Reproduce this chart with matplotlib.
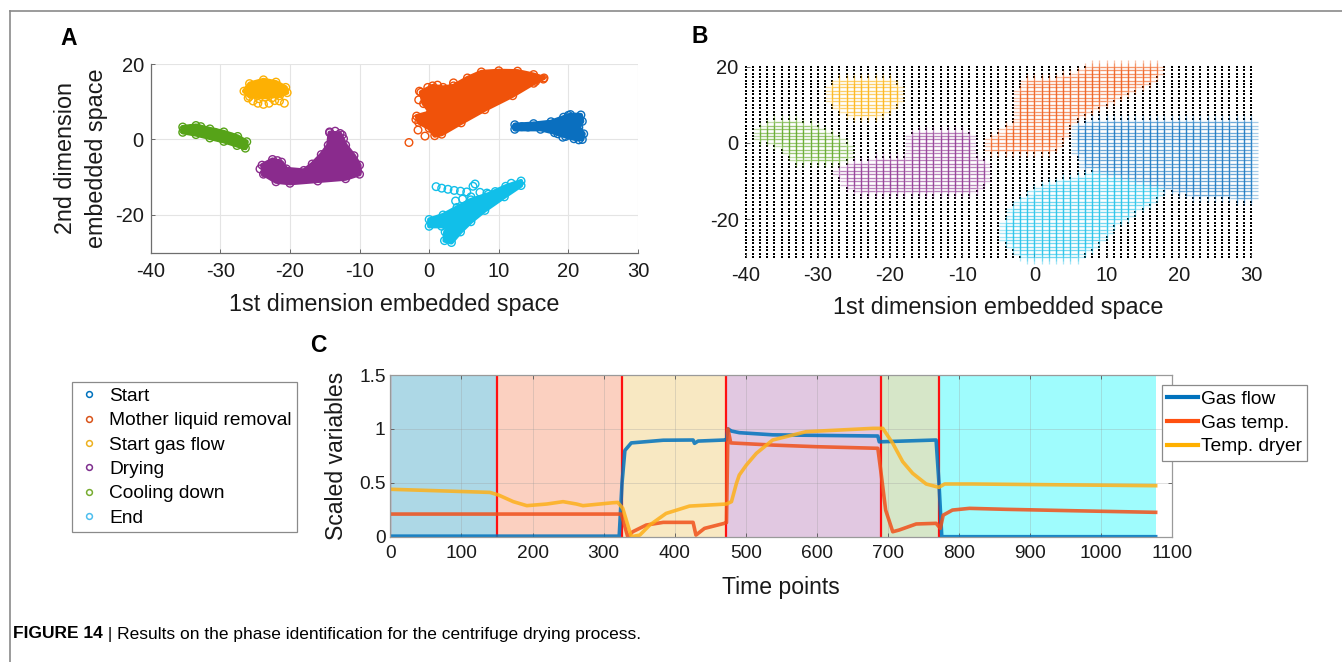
import numpy as np
import matplotlib.pyplot as plt
from matplotlib.lines import Line2D
from matplotlib.path import Path

plt.rcParams['font.family'] = ['Liberation Sans', 'DejaVu Sans']
plt.rcParams['axes.unicode_minus'] = False

W, H = 1342, 662

phase_names = ['Start', 'Mother liquid removal', 'Start gas flow', 'Drying', 'Cooling down', 'End']
phase_colors = ['#0a6fbf', '#f0520a', '#fdb003', '#8a2b8d', '#56a318', '#11bfe9']
legend_colors = ['#0072bd', '#d95319', '#edb120', '#7e2f8e', '#77ac30', '#4dbeee']

# panel A: dense core outline and loose points of every cluster
start_core = [(12.3, 3.9), (15, 4.2), (17.5, 4.7), (19.3, 5.9), (20.3, 6.6), (21.8, 6.5), (22.0, 4.8),
              (21.5, 3.2), (22.2, 1.5), (22.0, 0.0), (20.8, 0.2), (19.6, 0.8), (18, 1.8), (16, 2.7), (12.3, 2.7)]
start_pts = [(12.5, 3.3), (13.3, 3.4), (14.2, 3.3), (15.0, 3.5), (15.8, 3.6), (16.6, 3.4), (17.5, 3.8),
             (18.5, 1.5), (19.2, 0.6), (21.5, -0.1), (20.0, 6.4)]
mother_core = [(0.8, 1.0), (0.0, 3.0), (-1.5, 4.5), (-1.8, 6.2), (0.2, 7.2), (-0.8, 9.5), (-1.2, 12.5),
               (0.5, 14.2), (2.0, 13.8), (3.5, 14.2), (5.5, 16.3), (7.5, 17.9), (10.0, 18.2), (12.7, 18.1),
               (15.0, 17.2), (16.5, 16.3), (15.0, 14.9), (12.0, 11.6), (8.0, 7.9), (4.6, 4.4), (1.8, 1.4)]
mother_pts = [(-2.9, -0.8), (-0.6, 0.9), (-1.6, 2.5), (-1.9, 5.3), (-0.9, 5.6), (-1.5, 10.5), (-1.4, 12.8),
              (-0.2, 13.8), (1.2, 14.4), (2.0, 12.5), (3.5, 15.0), (4.5, 14.2), (6.5, 13.5), (16.4, 16.0),
              (15.3, 15.4), (12.2, 12.7), (2.5, 6.2), (1.0, 5.0), (0.5, 10.5)]
gas_core = [(-26.6, 12.8), (-25.8, 14.8), (-23.8, 15.8), (-22.0, 15.2), (-20.6, 13.8), (-20.4, 12.4),
            (-21.5, 11.6), (-23.5, 11.2), (-25.8, 11.4)]
gas_pts = [(-26.0, 11.0), (-25.3, 10.2), (-24.6, 9.6), (-23.8, 9.3), (-23.0, 9.6), (-22.2, 10.3),
           (-21.5, 10.2), (-20.8, 9.6), (-22.6, 11.0), (-24.5, 10.8)]
dry_core = [(-24.0, -6.8), (-22.5, -5.3), (-21.2, -6.0), (-20.5, -7.8), (-18.0, -8.2), (-16.8, -6.5),
            (-15.5, -4.0), (-14.5, -1.5), (-14.3, 1.8), (-12.8, 1.6), (-12.0, -1.5), (-10.8, -4.3),
            (-10.0, -6.8), (-10.0, -9.2), (-12.0, -10.4), (-16.0, -11.0), (-20.0, -11.6), (-22.0, -11.2),
            (-23.8, -9.2)]
dry_pts = [(-24.3, -7.8), (-23.6, -8.9), (-22.6, -9.6), (-21.6, -9.0), (-20.8, -9.4), (-19.8, -9.8),
           (-19.0, -9.2), (-17.8, -10.0), (-14.3, 2.0), (-13.5, 2.2), (-12.5, 1.2), (-12.3, 0.2),
           (-21.8, -5.6), (-10.3, -8.4)]
cool_core = [(-35.4, 3.3), (-33.5, 3.7), (-31.5, 2.8), (-29.5, 2.0), (-27.5, 0.8), (-26.2, -0.6),
             (-26.4, -2.3), (-27.6, -1.6), (-29.5, -0.5), (-31.5, 0.4), (-33.5, 1.3), (-35.4, 1.9)]
cool_pts = [(-35.3, 2.6), (-34.2, 2.8), (-32.8, 3.4), (-30.8, 1.9), (-28.4, 0.6), (-26.6, -1.6)]
end_core = [(0.0, -21.2), (2.0, -20.0), (4.0, -18.0), (6.0, -16.0), (8.5, -14.5), (11.0, -12.4),
            (13.2, -11.0), (13.2, -12.2), (10.8, -15.2), (8.0, -18.8), (6.0, -21.8), (4.5, -24.5),
            (3.2, -27.3), (2.2, -26.8), (2.3, -24.5), (3.0, -22.8), (1.8, -23.0), (0.0, -23.0)]
end_pts = [(1.0, -12.5), (1.8, -12.9), (2.7, -13.2), (3.6, -13.5), (4.5, -13.7), (5.4, -13.9), (6.3, -12.4),
           (6.6, -11.8), (7.3, -14.0), (8.3, -14.2), (9.5, -13.8), (11.8, -11.6), (6.0, -15.2),
           (4.8, -15.8), (3.8, -16.3)]

# panel B: evaluation grid and the class regions
grid_x = np.arange(-40, 31, 1.0)
grid_y = np.linspace(-30, 20, 56)
start_region = [(5.0, 2.5), (6.0, 5.0), (8.5, 6.0), (30.2, 6.0), (30.2, -15.0), (20.4, -13.5),
                (17.4, -11.5), (8.9, -8.0), (6.8, -6.2), (5.5, -2.0)]
mother_region = [(-6.4, -2.7), (-6.4, 0.8), (-3.5, 4.5), (-2.2, 6.5), (-2.4, 13), (-1.3, 16.5), (3, 17),
                 (6.8, 19), (8, 20.2), (17.4, 20.2), (17.4, 18), (15.5, 15), (12, 12), (8, 8.5),
                 (5.3, 6), (3.5, -1), (1.1, -2.7)]
gas_region = [(-28.3, 15), (-27, 16.8), (-20, 16.8), (-18.6, 14.5), (-18.6, 11), (-20, 8.5), (-22, 7),
              (-25, 7), (-27.5, 9.5), (-28.3, 11)]
dry_region = [(-17.3, 0.5), (-16.8, 3.4), (-9.2, 3.4), (-8.5, 1), (-8.5, -3), (-6.7, -5.5), (-6.7, -9.5),
              (-8, -12.5), (-11, -13.2), (-24.5, -13.2), (-26.5, -11), (-27.2, -7.5), (-25.5, -5),
              (-19.5, -4.2), (-17.5, -4)]
cool_region = [(-38.3, 0.5), (-38.3, 4.0), (-36.5, 5.5), (-34, 6.0), (-30.5, 5.0), (-28.8, 3.0),
               (-26.5, 1.0), (-25.5, -1.5), (-26.0, -4.5), (-27.5, -5.3), (-33.0, -5.3), (-34.5, -2.0),
               (-36.5, 0.0)]
end_region = [(-4.3, -22), (-3.5, -17), (-1.3, -14.5), (0.5, -11.5), (3, -10), (8.3, -8), (17.4, -8),
              (17.4, -14), (10.8, -22), (8.3, -27.2), (6, -30.2), (-1.5, -30.2), (-4, -26)]

# panel C: process signals
phase_bounds = [0, 150, 326, 473, 691, 772, 1078]
region_colors = ['#add8e6', '#fbd0c0', '#f8e8c2', '#e1c8e1', '#d6e6c8', '#9ffcfd']
gas_flow_t = [0, 322, 326, 330, 339, 384, 426, 428, 433, 470, 473, 475, 480, 491, 538, 600, 686, 688,
              693, 768, 772, 776, 1077]
gas_flow_v = [0.005, 0.005, 0.5, 0.80, 0.87, 0.895, 0.897, 0.866, 0.887, 0.897, 0.90, 1.0, 0.98, 0.965,
              0.945, 0.94, 0.934, 0.88, 0.881, 0.897, 0.5, 0.0, 0.0]
gas_temp_t = [0, 325, 334, 341, 360, 384, 426, 430, 442, 470, 473, 475, 479, 491, 538, 599, 686, 690,
              697, 707, 716, 740, 768, 774, 778, 791, 815, 866, 960, 1077]
gas_temp_v = [0.21, 0.21, 0.0, 0.046, 0.108, 0.133, 0.133, 0.015, 0.077, 0.124, 0.13, 1.0, 0.87, 0.866,
              0.85, 0.835, 0.82, 0.618, 0.247, 0.046, 0.062, 0.118, 0.124, 0.077, 0.2, 0.247, 0.263,
              0.254, 0.241, 0.226]
temp_dryer_t = [0, 140, 152, 173, 192, 220, 243, 262, 271, 313, 320, 327, 339, 351, 365, 388, 421, 473,
                480, 487, 491, 501, 515, 538, 585, 679, 693, 707, 721, 735, 754, 772, 780, 819, 1077]
temp_dryer_v = [0.44, 0.411, 0.387, 0.325, 0.288, 0.303, 0.325, 0.303, 0.288, 0.315, 0.318, 0.263, 0.0,
                0.015, 0.108, 0.216, 0.284, 0.303, 0.325, 0.495, 0.572, 0.665, 0.773, 0.897, 0.974,
                1.005, 1.005, 0.866, 0.696, 0.588, 0.489, 0.458, 0.489, 0.489, 0.473]
signal_names = ['Gas flow', 'Gas temp.', 'Temp. dryer']
signal_colors = ['#0072bd', '#f0501a', '#fdb01a']


def box(left, top, right, bottom):
    return [left / W, 1 - bottom / H, (right - left) / W, (bottom - top) / H]


def style_ticks(ax, size, pad_x, pad_y):
    ax.tick_params(direction='in', length=3, width=0.6, colors='#555555', labelcolor='#1a1a1a',
                   labelsize=size)
    ax.tick_params(axis='x', pad=pad_x)
    ax.tick_params(axis='y', pad=pad_y)


fig = plt.figure(figsize=(W / 100, H / 100), dpi=100)

# figure frame lines
fig.add_artist(Line2D([10 / W, 1], [1 - 10.7 / H] * 2, color='#8a8a8a', lw=1.2))
fig.add_artist(Line2D([10 / W] * 2, [0, 1 - 10.7 / H], color='#8a8a8a', lw=1.2))

# ---- panel A ----
axA = fig.add_axes(box(150.7, 64, 638, 252.7))
a_cores = [start_core, mother_core, gas_core, dry_core, cool_core, end_core]
a_points = [start_pts, mother_pts, gas_pts, dry_pts, cool_pts, end_pts]
for core, pts, col in zip(a_cores, a_points, phase_colors):
    cx, cy = zip(*core)
    axA.fill(cx, cy, facecolor=col, edgecolor=col, lw=3, joinstyle='round', zorder=3)
    axA.scatter(cx, cy, s=30, facecolors='none', edgecolors=col, linewidths=1.0, zorder=3)
    px, py = zip(*pts)
    axA.scatter(px, py, s=30, facecolors='none', edgecolors=col, linewidths=1.0, zorder=3)
axA.set_xlim(-40, 30)
axA.set_ylim(-30, 20)
axA.set_xticks(range(-40, 31, 10))
axA.set_yticks([-20, 0, 20])
axA.grid(True, color='#e4e4e4', lw=0.8)
axA.set_axisbelow(True)
for side in ['top', 'right']:
    axA.spines[side].set_visible(False)
for side in ['left', 'bottom']:
    axA.spines[side].set_color('#6e6e6e')
    axA.spines[side].set_linewidth(0.9)
style_ticks(axA, 14.5, 7, 5)
axA.set_xlabel('1st dimension embedded space', fontsize=16.8, color='#1a1a1a')
axA.xaxis.set_label_coords(0.5, -0.277)
axA.xaxis.label.set_va('center')
axA.set_ylabel('2nd dimension\nembedded space', fontsize=16.8, color='#1a1a1a', linespacing=1.45)
axA.yaxis.set_label_coords(-0.143, 0.5)
axA.yaxis.label.set_va('center')

# ---- panel B ----
axB = fig.add_axes(box(745.6, 66.7, 1251, 257.3))
gx, gy = np.meshgrid(grid_x, grid_y)
grid_pts = np.column_stack([gx.ravel(), gy.ravel()])
free = np.ones(len(grid_pts), bool)
b_regions = [start_region, mother_region, gas_region, dry_region, cool_region, end_region]
for region, col in zip(b_regions, phase_colors):
    inside = Path(region).contains_points(grid_pts) & free
    free &= ~inside
    axB.plot(grid_pts[inside, 0], grid_pts[inside, 1], '+', color=col, ms=10, mew=0.9, alpha=0.36,
             clip_on=False)
axB.scatter(grid_pts[free, 0], grid_pts[free, 1], s=2.6, c='k', marker='s', linewidths=0, clip_on=False)
axB.set_xlim(-40, 30)
axB.set_ylim(-30, 20)
axB.set_xticks(range(-40, 31, 10))
axB.set_yticks([-20, 0, 20])
for side in axB.spines:
    axB.spines[side].set_visible(False)
style_ticks(axB, 14.5, 6, 5)
axB.set_xlabel('1st dimension embedded space', fontsize=16.8, color='#1a1a1a')
axB.xaxis.set_label_coords(0.5, -0.266)
axB.xaxis.label.set_va('center')

# ---- panel C ----
axC = fig.add_axes(box(390.4, 375, 1172, 536.7))
for i, col in enumerate(region_colors):
    axC.axvspan(phase_bounds[i], phase_bounds[i + 1], color=col, lw=0, zorder=0.2)
for b in phase_bounds[:-1]:
    axC.axvline(b, color='#ff1010', lw=1.6, zorder=1.8)
signals = [(gas_flow_t, gas_flow_v), (gas_temp_t, gas_temp_v), (temp_dryer_t, temp_dryer_v)]
for (t, v), col, name in zip(signals, signal_colors, signal_names):
    axC.plot(t, v, color=col, lw=2.6, alpha=0.85, label=name, zorder=2, solid_joinstyle='round')
axC.set_xlim(0, 1100)
axC.set_ylim(0, 1.5)
axC.set_xticks(range(0, 1101, 100))
axC.set_yticks([0, 0.5, 1, 1.5])
axC.set_yticklabels(['0', '0.5', '1', '1.5'])
axC.grid(True, color='#9a9a9a', lw=0.6, alpha=0.35)
axC.set_axisbelow('line')
for side in axC.spines:
    axC.spines[side].set_color('#9a9a9a')
    axC.spines[side].set_linewidth(0.9)
style_ticks(axC, 13.8, 6, 3.5)
axC.tick_params(top=True, right=True)
axC.set_xlabel('Time points', fontsize=16.6, color='#1a1a1a')
axC.xaxis.set_label_coords(0.5, -0.317)
axC.xaxis.label.set_va('center')
axC.set_ylabel('Scaled variables', fontsize=16.6, color='#1a1a1a')
axC.yaxis.set_label_coords(-0.069, 0.5)
axC.yaxis.label.set_va('center')
sig_handles = [Line2D([], [], color=c, lw=3) for c in ['#0072bd', '#ff5010', '#ffb000']]
legC = axC.legend(sig_handles, signal_names, loc='upper left', bbox_to_anchor=(1161.7 / W, 1 - 385 / H),
                  bbox_transform=fig.transFigure, borderaxespad=0, fontsize=13.8, frameon=True,
                  fancybox=False, edgecolor='#8a8a8a', framealpha=1, handlelength=1.6,
                  handletextpad=0.15, borderpad=0.28, labelspacing=0.33)
legC.get_frame().set_linewidth(0.9)
legC.set_zorder(5)

# phase legend at the left
phase_handles = [Line2D([], [], ls='none', marker='o', ms=4.2, mfc='none', mec=c, mew=1.1)
                 for c in legend_colors]
legP = fig.legend(phase_handles, phase_names, loc='upper left', bbox_to_anchor=(71.7 / W, 1 - 382.3 / H),
                  borderaxespad=0, fontsize=13.8, frameon=True, fancybox=False, edgecolor='#8a8a8a',
                  framealpha=1, handlelength=1.28, handletextpad=0.4, borderpad=0.28, labelspacing=0.36)
legP.get_frame().set_linewidth(0.9)

# panel letters
fig.text(69 / W, 1 - 38.3 / H, 'A', fontsize=16.5, fontweight='bold', ha='center', va='center')
fig.text(700 / W, 1 - 36.7 / H, 'B', fontsize=16.5, fontweight='bold', ha='center', va='center')
fig.text(318.6 / W, 1 - 345 / H, 'C', fontsize=16.5, fontweight='bold', ha='center', va='center')

# caption
cap_bold = fig.text(13.3 / W, 1 - 634 / H, 'FIGURE 14', fontsize=12.5, fontweight='bold',
                    va='center', ha='left')
fig.canvas.draw()
bb = cap_bold.get_window_extent()
fig.text(bb.x1 / W, 1 - 634 / H, ' | Results on the phase identification for the centrifuge drying process.',
         fontsize=12.5, va='center', ha='left')

fig.savefig('out.png', dpi=100)
